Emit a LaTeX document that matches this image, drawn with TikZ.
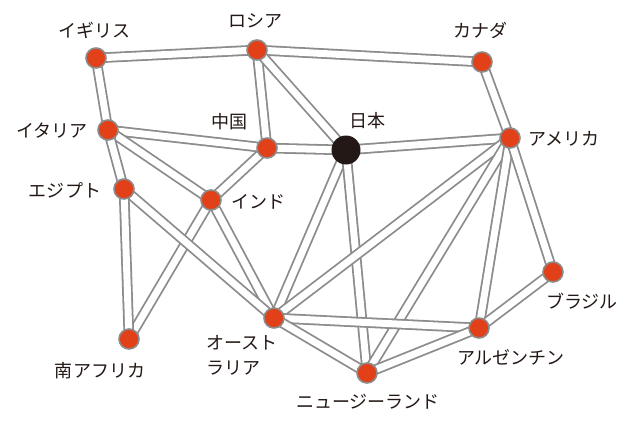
\documentclass[tikz,border=0pt]{standalone}
\usepackage{fontspec}
\setmainfont{Noto Sans CJK JP}
\usetikzlibrary{backgrounds}
\definecolor{nodered}{RGB}{226,64,24}
\definecolor{linkgray}{RGB}{140,140,140}
\definecolor{inkblack}{RGB}{35,24,21}

\begin{document}
\begin{tikzpicture}[x=1bp,y=-1bp,
  country/.style={circle,fill=nodered,draw=linkgray,line width=1.6bp,minimum size=20bp,inner sep=0pt},
  home/.style={circle,fill=inkblack,minimum size=29bp,inner sep=0pt},
  place/.style={font=\fontsize{18bp}{25bp}\selectfont,text=inkblack,inner sep=0pt,align=left},
  link/.style={draw=linkgray,line width=1.8bp,double=white,double distance=7bp}]
  \useasboundingbox (0,0) rectangle (640,425);

  % countries
  \node[country] (uk) at (96,58)  {};
  \node[country] (ru) at (257,50) {};
  \node[country] (ca) at (482,62) {};
  \node[country] (it) at (108,130) {};
  \node[country] (cn) at (267,148) {};
  \node[home]    (jp) at (346,150) {};
  \node[country] (us) at (510,138) {};
  \node[country] (eg) at (124,189) {};
  \node[country] (in) at (211,200) {};
  \node[country] (br) at (553,272) {};
  \node[country] (au) at (274,318) {};
  \node[country] (ar) at (479,328) {};
  \node[country] (nz) at (367,373) {};
  \node[country] (sa) at (129,339) {};

  % names
  \node[place] at ([xshift=-2bp,yshift=28bp]uk)  {イギリス};
  \node[place] at ([xshift=-2bp,yshift=29bp]ru)  {ロシア};
  \node[place] at ([xshift=-2bp,yshift=32bp]ca)  {カナダ};
  \node[place] at ([xshift=-56bp,yshift=-1bp]it) {イタリア};
  \node[place] at ([xshift=-38bp,yshift=26bp]cn) {中国};
  \node[place] at ([xshift=21bp,yshift=29bp]jp)  {日本};
  \node[place] at ([xshift=54bp,yshift=-1bp]us)  {アメリカ};
  \node[place] at ([xshift=-59bp,yshift=-1bp]eg) {エジプト};
  \node[place] at ([xshift=47bp,yshift=-2bp]in)  {インド};
  \node[place] at ([xshift=29bp,yshift=-29bp]br) {ブラジル};
  \node[place] at ([xshift=-32bp,yshift=-37bp]au) {オースト\\ラリア};
  \node[place] at ([xshift=32bp,yshift=-29bp]ar) {アルゼンチン};
  \node[place] at ([xshift=1bp,yshift=-29bp]nz)  {ニュージーランド};
  \node[place] at ([xshift=-29bp,yshift=-32bp]sa) {南アフリカ};

  % links
  \begin{pgfonlayer}{background}
  \path[every edge/.style=link]
  (uk.center) edge (ru.center)
  edge (it.center)
  (ru.center) edge (ca.center)
  edge (cn.center)
  edge (jp.center)
  (ca.center) edge (us.center)
  (it.center) edge (cn.center)
  edge (in.center)
  edge (eg.center)
  (cn.center) edge (jp.center)
  edge (in.center)
  (in.center) edge (sa.center)
  edge (au.center)
  (eg.center) edge (au.center)
  edge (sa.center)
  (jp.center) edge (us.center)
  edge (au.center)
  edge (nz.center)
  (us.center) edge (au.center)
  edge (nz.center)
  edge (ar.center)
  edge (br.center)
  (br.center) edge (ar.center)
  (ar.center) edge (au.center)
  edge (nz.center)
  (au.center) edge (nz.center)
  ;
  \end{pgfonlayer}
\end{tikzpicture}
\end{document}
